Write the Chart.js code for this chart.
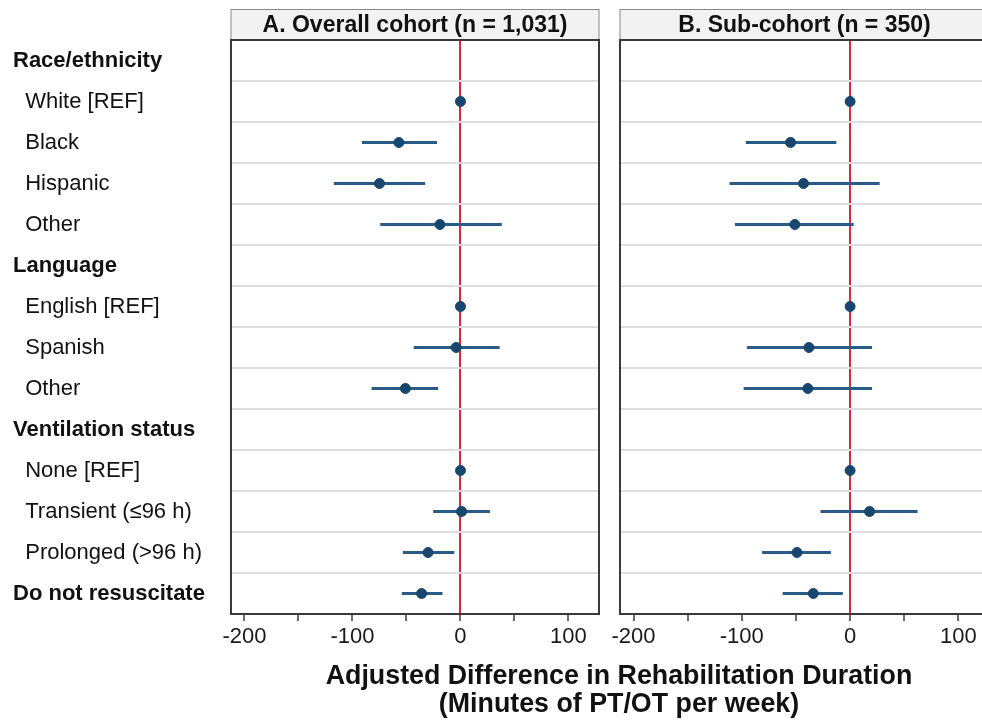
<!DOCTYPE html>
<html>
<head>
<meta charset="utf-8">
<script src="https://cdn.jsdelivr.net/npm/chart.js@4"></script>
<style>
  body { margin: 0; background: #fff; }
  #wrap { position: relative; width: 982px; height: 720px; overflow: hidden; }
  canvas { position: absolute; top: 0; }
  #xtitle {
    position: absolute; left: 619px; top: 661px; transform: translateX(-50%);
    font: bold 26.8px "Liberation Sans", Arial, sans-serif; line-height: 28px;
    text-align: center; white-space: nowrap; color: #111;
  }
</style>
</head>
<body>
<div id="wrap">
  <canvas id="chartA" width="605" height="720" style="left:0"></canvas>
  <canvas id="chartB" width="390" height="720" style="left:605px"></canvas>
  <div id="xtitle">Adjusted Difference in Rehabilitation Duration<br>(Minutes of PT/OT per week)</div>
</div>
<script>
// rows, top to bottom
var categories = ['Race/ethnicity', 'White [REF]', 'Black', 'Hispanic', 'Other',
  'Language', 'English [REF]', 'Spanish', 'Other',
  'Ventilation status', 'None [REF]', 'Transient (\u226496 h)', 'Prolonged (>96 h)',
  'Do not resuscitate'];
var headerRows = [0, 5, 9, 13];

// A. overall cohort: estimate and 95% CI
var overallEst  = [null, 0, -57, -75, -19, null, 0, -4, -51, null, 0, 1, -30, -36];
var overallLow  = [null, null, -91, -117, -74, null, null, -43, -82, null, null, -25, -53, -54];
var overallHigh = [null, null, -22, -33, 38, null, null, 36, -21, null, null, 27, -6, -17];

// B. sub-cohort
var subEst  = [null, 0, -55, -43, -51, null, 0, -38, -39, null, 0, 18, -49, -34];
var subLow  = [null, null, -96, -111, -106, null, null, -95, -98, null, null, -27, -81, -62];
var subHigh = [null, null, -13, 27, 3, null, null, 20, 20, null, null, 62, -18, -7];

var xTicks = [-200, -100, 0, 100];

var FONT = '"Liberation Sans", Arial, sans-serif';
var navy = '#17466f';
var ciColor = '#2a5a86';
var refRed = '#d42a3c';

// header strip + panel frame
var panelPlugin = {
  id: 'panel',
  afterDraw: function(chart, args, opts) {
    var a = chart.chartArea, c = chart.ctx;
    c.save();
    c.fillStyle = '#f2f2f2';
    c.fillRect(a.left, 9, a.right - a.left, a.top - 9);
    c.strokeStyle = '#888';
    c.lineWidth = 1;
    c.beginPath();
    c.moveTo(a.left, 9.5); c.lineTo(a.right, 9.5);
    c.moveTo(a.right, 9); c.lineTo(a.right, a.top);
    c.moveTo(a.left, 9); c.lineTo(a.left, a.top);
    c.stroke();
    c.fillStyle = '#111';
    c.font = 'bold 23px ' + FONT;
    c.textAlign = 'center';
    c.textBaseline = 'middle';
    c.fillText(opts.title, (a.left + a.right) / 2, (9 + a.top) / 2 + 1);
    // frame
    c.strokeStyle = '#3a3a3a';
    c.lineWidth = 2;
    c.strokeRect(a.left, a.top, a.right - a.left, a.bottom - a.top);
    c.restore();
  }
};

function makeChart(id, est, low, high, opt) {
  var ci = low.map(function(lo, i) { return lo === null ? null : [lo, high[i]]; });
  return new Chart(document.getElementById(id), {
    type: 'bar',
    data: {
      labels: categories,
      datasets: [
        {
          type: 'line',
          indexAxis: 'y',
          data: est,
          showLine: false,
          pointRadius: 5,
          pointBackgroundColor: navy,
          pointBorderColor: navy,
          order: 0
        },
        {
          indexAxis: 'y',
          data: ci,
          backgroundColor: ciColor,
          borderWidth: 0,
          barThickness: 2.5,
          order: 1
        }
      ]
    },
    options: {
      indexAxis: 'y',
      responsive: false,
      animation: false,
      layout: { padding: { top: 40, left: opt.padLeft, right: 5, bottom: 0 } },
      plugins: {
        legend: { display: false },
        tooltip: { enabled: false },
        panel: { title: opt.title }
      },
      scales: {
        x: {
          type: 'linear',
          min: -212.5,
          max: 128.3,
          border: { display: false },
          grid: {
            drawOnChartArea: true,
            color: function(ctx) { return ctx.tick && ctx.tick.value === 0 ? refRed : 'rgba(0,0,0,0)'; },
            lineWidth: 2,
            tickColor: '#3a3a3a',
            tickLength: 7,
            tickWidth: 1.5
          },
          ticks: {
            stepSize: 50,
            includeBounds: false,
            maxRotation: 0,
            autoSkip: false,
            padding: 3,
            color: '#1a1a1a',
            font: { family: FONT, size: 22 },
            callback: function(v) { return xTicks.indexOf(v) >= 0 ? String(v) : ''; }
          },
          afterFit: function(scale) { scale.height = 106; }
        },
        y: {
          type: 'category',
          offset: true,
          border: { display: false },
          grid: { offset: true, color: '#dedede', lineWidth: 2, drawTicks: false },
          ticks: {
            display: opt.showLabels,
            crossAlign: 'far',
            autoSkip: false,
            color: '#111',
            font: function(ctx) {
              var bold = headerRows.indexOf(ctx.index) >= 0;
              return { family: FONT, size: 22, weight: bold ? 'bold' : 'normal' };
            },
            callback: function(v, i) {
              return headerRows.indexOf(i) >= 0 ? categories[i] : '  ' + categories[i];
            }
          },
          afterFit: function(scale) { scale.width = opt.yWidth; }
        }
      }
    },
    plugins: [panelPlugin]
  });
}

makeChart('chartA', overallEst, overallLow, overallHigh,
  { title: 'A. Overall cohort (n = 1,031)', padLeft: 13, yWidth: 218, showLabels: true });
makeChart('chartB', subEst, subLow, subHigh,
  { title: 'B. Sub-cohort (n = 350)', padLeft: 15, yWidth: 0, showLabels: false });
</script>
</body>
</html>
